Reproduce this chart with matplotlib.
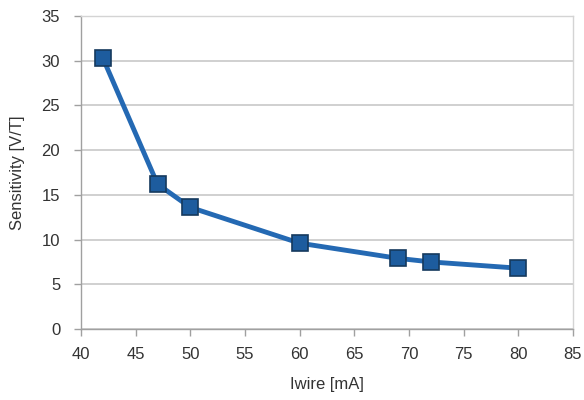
import matplotlib
matplotlib.use("Agg")
import matplotlib.pyplot as plt

iwire = [42, 47, 50, 60, 69, 72, 80]
sensitivity = [30.3, 16.2, 13.6, 9.6, 7.9, 7.5, 6.8]
x_ticks = [40, 45, 50, 55, 60, 65, 70, 75, 80, 85]
y_ticks = [0, 5, 10, 15, 20, 25, 30, 35]

plt.rcParams['font.family'] = ['Liberation Sans', 'DejaVu Sans']

fig = plt.figure(figsize=(5.84, 4.0), dpi=100)
ax = fig.add_axes([0.1387, 0.1775, 0.981 - 0.1387, 0.96 - 0.1775])

ax.plot(iwire, sensitivity, color='#2469b3', linewidth=3.5, marker='s',
        markersize=11, markerfacecolor='#1d5c9e', markeredgecolor='#153a5e',
        markeredgewidth=1.2, zorder=3)

ax.set_xlim(40, 85)
ax.set_ylim(0, 35)
ax.set_xticks(x_ticks)
ax.set_yticks(y_ticks)
ax.grid(axis='y', color='#c8c8c8', linewidth=1.2)
ax.set_axisbelow(True)

for s in ['left', 'bottom']:
    ax.spines[s].set_color('#a0a0a0')
    ax.spines[s].set_linewidth(1.0)
for s in ['right', 'top']:
    ax.spines[s].set_color('#d4d4d4')
    ax.spines[s].set_linewidth(1.0)

ax.tick_params(axis='both', colors='#a0a0a0', labelcolor='#333333',
               labelsize=12, length=5, width=1)
ax.tick_params(axis='x', pad=8)
ax.tick_params(axis='y', pad=10)

ax.set_xlabel('Iwire [mA]', fontsize=12, color='#333333', labelpad=11)
ax.set_ylabel('Sensitivity [V/T]', fontsize=12, color='#333333', labelpad=12)

fig.savefig('out.png', dpi=100)
